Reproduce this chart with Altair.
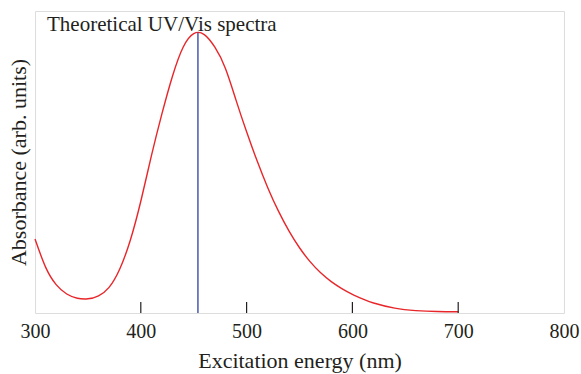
import altair as alt
import pandas as pd

# Spectrum (wavelength nm, absorbance arb. units)
wavelength = [300, 310, 320, 330, 340, 350, 360, 370, 380, 390, 400, 410,
              420, 430, 440, 450, 460, 470, 480, 490, 500, 510, 520, 530,
              540, 550, 560, 570, 580, 590, 600, 610, 620, 640, 660, 680, 700]
absorbance = [0.245, 0.152, 0.094, 0.063, 0.049, 0.047, 0.057, 0.085, 0.145, 0.240, 0.370, 0.520,
              0.660, 0.785, 0.880, 0.925, 0.922, 0.880, 0.810, 0.705, 0.600, 0.503, 0.415, 0.338,
              0.272, 0.216, 0.170, 0.133, 0.104, 0.081, 0.062, 0.046, 0.033, 0.016, 0.008, 0.005, 0.004]

peak_nm = [454]
peak_base = [0.0]
peak_abs = [0.929]
tick_values = [300, 400, 500, 600, 700, 800]
inner_ticks = [400, 500, 600, 700]
label_text = ["Theoretical UV/Vis spectra"]

FONT = "Liberation Serif"
TEXT = "#231f20"

spec = pd.DataFrame({"nm": wavelength, "abs": absorbance})
peak = pd.DataFrame({"nm": peak_nm, "base": peak_base, "abs": peak_abs})
ticks = pd.DataFrame({"nm": inner_ticks})
lab = pd.DataFrame({"t": label_text})

xscale = alt.Scale(domain=[300, 800], nice=False, zero=False)
yscale = alt.Scale(domain=[0, 1], nice=False)

xaxis = alt.Axis(values=tick_values, ticks=False, domain=False, grid=False,
                 labelFont=FONT, labelFontSize=20, labelColor=TEXT, labelPadding=8,
                 labelFlush=False,
                 title="Excitation energy (nm)", titleFont=FONT, titleFontSize=22,
                 titleFontWeight="normal", titleColor=TEXT, titlePadding=9)
yaxis = alt.Axis(ticks=False, labels=False, domain=False, grid=False,
                 title="Absorbance (arb. units)", titleFont=FONT, titleFontSize=22,
                 titleFontWeight="normal", titleColor=TEXT, titlePadding=5)

line = alt.Chart(spec).mark_line(color="#e8262a", strokeWidth=1.4, interpolate="natural").encode(
    x=alt.X("nm:Q", scale=xscale, axis=xaxis),
    y=alt.Y("abs:Q", scale=yscale, axis=yaxis),
)

stick = alt.Chart(peak).mark_rule(color="#3b4fa8", strokeWidth=1.4).encode(
    x=alt.X("nm:Q", scale=xscale),
    y=alt.Y("base:Q", scale=yscale),
    y2="abs:Q",
)

tk = alt.Chart(ticks).mark_rule(color="#231f20", strokeWidth=1.2).encode(
    x=alt.X("nm:Q", scale=xscale),
    y=alt.value(302),
    y2=alt.value(291),
)

txt = alt.Chart(lab).mark_text(font=FONT, fontSize=21, color=TEXT, align="left",
                               baseline="alphabetic").encode(
    x=alt.value(12), y=alt.value(20), text="t:N"
)

chart = alt.layer(line, stick, tk, txt).properties(
    width=529, height=302,
    autosize=alt.AutoSizeParams(type="none"),
    padding={"left": 35, "top": 11, "right": 17, "bottom": 61},
).configure_view(stroke="#231f20", strokeWidth=1.5).configure(background="white")

chart.save("out.html", embed_options={"renderer": "svg", "actions": False})
